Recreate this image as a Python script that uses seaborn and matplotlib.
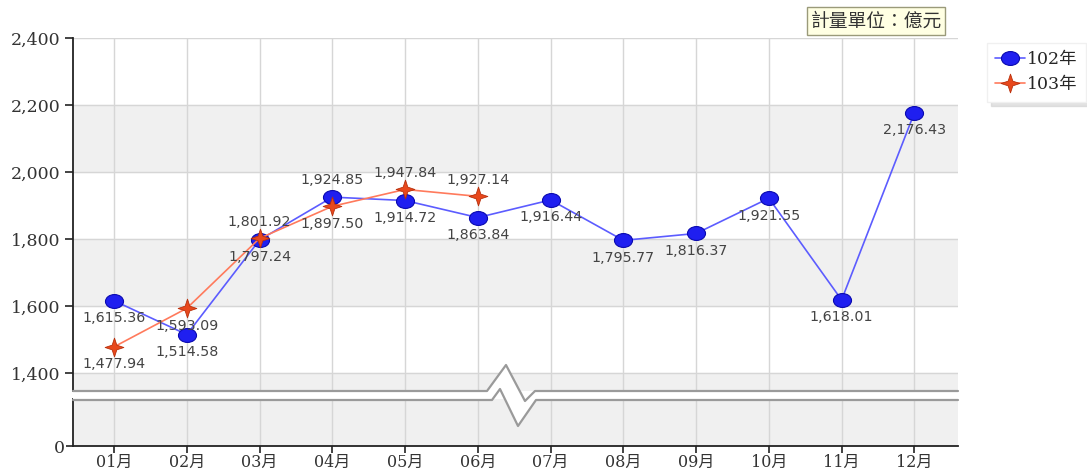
import numpy as np
import matplotlib
matplotlib.use("Agg")
import matplotlib.pyplot as plt
import matplotlib.path as mpath
import matplotlib.patches as mpatches
from matplotlib.transforms import Affine2D
import seaborn as sns

# -----------------------
# data
# -----------------------
months = ["01月", "02月", "03月", "04月", "05月", "06月",
          "07月", "08月", "09月", "10月", "11月", "12月"]
y102 = [1615.36, 1514.58, 1797.24, 1924.85, 1914.72, 1863.84,
        1916.44, 1795.77, 1816.37, 1921.55, 1618.01, 2176.43]
y103 = [1477.94, 1593.09, 1801.92, 1897.50, 1947.84, 1927.14]
yticks_top = [1400, 1600, 1800, 2000, 2200, 2400]
unit_text = "計量單位：億元"

# label above (+1) or below (-1) the point
pos102 = [-1, -1, -1, 1, -1, -1, -1, -1, -1, -1, -1, -1]
pos103 = [-1, -1, 1, -1, 1, 1]

sns.set_theme(style="white")
plt.rcParams['font.family'] = ['DejaVu Sans', 'Noto Sans CJK TC']
tick_font = ['DejaVu Serif', 'Noto Sans CJK TC']

W, H = 1087, 473
fig = plt.figure(figsize=(W / 100, H / 100), dpi=100)

def fx(px):
    return px / W

def fy(py):
    return 1 - py / H

left, right = 73, 958
ax = fig.add_axes([fx(left), fy(391), fx(right - left), fy(38) - fy(391)])
axb = fig.add_axes([fx(left), fy(446), fx(right - left), fy(399) - fy(446)])

xpos = np.arange(len(months))
xlim = (-0.565, 11.6)

# background bands + grid
for a in (ax, axb):
    a.set_facecolor("white")
    a.set_xlim(*xlim)
    for x in xpos:
        a.axvline(x, color="#d6d6d6", lw=1, zorder=0)
ax.axhspan(2000, 2200, color="#f0f0f0", zorder=-1)
ax.axhspan(1600, 1800, color="#f0f0f0", zorder=-1)
ax.axhspan(1300, 1400, color="#f0f0f0", zorder=-1)
axb.set_facecolor("#f0f0f0")
for v in yticks_top:
    ax.axhline(v, color="#d6d6d6", lw=1, zorder=0)

ax.set_ylim(1346, 2400)
axb.set_ylim(0, 140)

ellipse = mpath.Path.unit_circle().transformed(Affine2D().scale(1.3, 1.0))
star4 = mpath.Path(
    [(0, 1), (0.25, 0.25), (1, 0), (0.25, -0.25), (0, -1),
     (-0.25, -0.25), (-1, 0), (-0.25, 0.25), (0, 1)],
    [1, 2, 2, 2, 2, 2, 2, 2, 79])

sns.lineplot(x=xpos, y=y102, ax=ax, color="#5c5cff", lw=1.2,
             marker=ellipse, markersize=13, markerfacecolor="#1f1ff0",
             markeredgecolor="#0a0ab0", markeredgewidth=0.8,
             label="102年", legend=False, zorder=3)
sns.lineplot(x=xpos[:len(y103)], y=y103, ax=ax, color="#ff7a5c", lw=1.2,
             marker=star4, markersize=13.5, markerfacecolor="#e8481c",
             markeredgecolor="#b8300c", markeredgewidth=0.6,
             label="103年", legend=False, zorder=4)

def labels(vals, pos):
    for x, v, p in zip(xpos, vals, pos):
        ax.annotate(f"{v:,.2f}", (x, v), xytext=(0, 12 * p if p > 0 else -12.5),
                    textcoords="offset points", ha="center", va="center",
                    fontsize=10.3, color="#444444", zorder=6)

labels(y102, pos102)
labels(y103, pos103)

# axes styling
for a in (ax, axb):
    for s in ("top", "right"):
        a.spines[s].set_visible(False)
    a.spines["left"].set_color("#222222")
    a.spines["left"].set_linewidth(1.3)
ax.spines["bottom"].set_visible(False)
axb.spines["bottom"].set_color("#222222")
axb.spines["bottom"].set_linewidth(1.3)

ax.set_yticks(yticks_top)
ax.set_yticklabels([f"{v:,}" for v in yticks_top], family=tick_font,
                   fontsize=12.5, color="#333333")
ax.set_xticks([])
ax.tick_params(axis="y", left=True, length=6, width=1.2, color="#222222", pad=3)

axb.set_yticks([0])
axb.set_yticklabels(["0"], family=tick_font, fontsize=12.5, color="#333333")
axb.set_xticks(xpos)
axb.set_xticklabels(months, family=tick_font, fontsize=11.5, color="#333333")
axb.tick_params(axis="both", left=True, bottom=True, length=5, width=1.2,
                color="#222222", pad=1)

# axis break with zigzag
top_line = [(left, 391), (487, 391), (506, 365), (525, 401), (535, 391), (right, 391)]
bot_line = [(left, 400), (492, 400), (500, 389), (518, 426), (536, 400), (right, 400)]
poly = [(fx(x), fy(y)) for x, y in top_line] + [(fx(x), fy(y)) for x, y in bot_line[::-1]]
fig.patches.append(mpatches.Polygon(poly, closed=True, transform=fig.transFigure,
                                    facecolor="white", edgecolor="none", zorder=5))
for line in (top_line, bot_line):
    fig.lines.append(plt.Line2D([fx(x) for x, y in line], [fy(y) for x, y in line],
                                transform=fig.transFigure, color="#9a9a9a", lw=1.6,
                                zorder=6))

# unit box
fig.text(fx(876), fy(21), unit_text, ha="center", va="center", fontsize=13.5,
         family=['Noto Sans CJK TC', 'DejaVu Sans'], color="#333333",
         bbox=dict(boxstyle="square,pad=0.2", facecolor="#ffffe3",
                   edgecolor="#9a9a7a", lw=1))

# legend
leg = fig.legend(loc="upper left", bbox_to_anchor=(fx(978), fy(34)),
                 frameon=True, fancybox=False,
                 shadow={'color': '#d0d0d0', 'alpha': 0.6, 'ox': 3, 'oy': -3},
                 handlelength=1.7, handletextpad=0.1, borderpad=0.5,
                 labelspacing=0.45, prop={'family': tick_font, 'size': 12.5})
leg.get_frame().set_edgecolor("#f0f0f0")

fig.savefig("out.png", dpi=100)
